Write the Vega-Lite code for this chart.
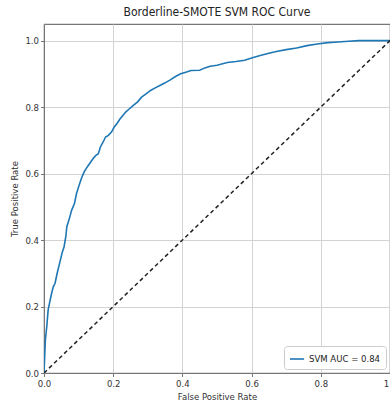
{
  "$schema": "https://vega.github.io/schema/vega-lite/v6.json",
  "width": 346,
  "height": 349,
  "autosize": {"type": "none"},
  "padding": {"left": 44, "top": 24, "right": 0, "bottom": 35},
  "background": "white",
  "title": {"text": "Borderline-SMOTE SVM ROC Curve", "fontSize": 12, "font": "DejaVu Sans Condensed, Liberation Sans Narrow, DejaVu Sans", "fontWeight": "normal", "color": "#222", "offset": 5, "anchor": "middle"},
  "config": {
    "view": {"stroke": "#777", "strokeWidth": 1.2},
    "axis": {"labelFont": "DejaVu Sans Condensed, Liberation Sans Narrow, DejaVu Sans", "titleFont": "DejaVu Sans Condensed, Liberation Sans Narrow, DejaVu Sans", "labelFontSize": 9.5, "titleFontSize": 9.5, "titleFontWeight": "normal", "labelColor": "#333", "titleColor": "#333", "gridColor": "#d3d3d3", "gridWidth": 1, "domainColor": "#777", "tickColor": "#777", "tickSize": 3.5, "labelPadding": 2, "labelFlush": false}
  },
  "datasets": {
    "roc": [
      {"fpr": 0, "tpr": 0, "series": "SVM AUC = 0.84"},
      {"fpr": 0.002, "tpr": 0.05, "series": "SVM AUC = 0.84"},
      {"fpr": 0.004, "tpr": 0.10, "series": "SVM AUC = 0.84"},
      {"fpr": 0.008, "tpr": 0.14, "series": "SVM AUC = 0.84"},
      {"fpr": 0.012, "tpr": 0.19, "series": "SVM AUC = 0.84"},
      {"fpr": 0.016, "tpr": 0.21, "series": "SVM AUC = 0.84"},
      {"fpr": 0.022, "tpr": 0.24, "series": "SVM AUC = 0.84"},
      {"fpr": 0.027, "tpr": 0.26, "series": "SVM AUC = 0.84"},
      {"fpr": 0.032, "tpr": 0.27, "series": "SVM AUC = 0.84"},
      {"fpr": 0.038, "tpr": 0.30, "series": "SVM AUC = 0.84"},
      {"fpr": 0.045, "tpr": 0.33, "series": "SVM AUC = 0.84"},
      {"fpr": 0.052, "tpr": 0.36, "series": "SVM AUC = 0.84"},
      {"fpr": 0.058, "tpr": 0.38, "series": "SVM AUC = 0.84"},
      {"fpr": 0.063, "tpr": 0.41, "series": "SVM AUC = 0.84"},
      {"fpr": 0.066, "tpr": 0.44, "series": "SVM AUC = 0.84"},
      {"fpr": 0.072, "tpr": 0.46, "series": "SVM AUC = 0.84"},
      {"fpr": 0.080, "tpr": 0.49, "series": "SVM AUC = 0.84"},
      {"fpr": 0.088, "tpr": 0.51, "series": "SVM AUC = 0.84"},
      {"fpr": 0.094, "tpr": 0.54, "series": "SVM AUC = 0.84"},
      {"fpr": 0.100, "tpr": 0.56, "series": "SVM AUC = 0.84"},
      {"fpr": 0.108, "tpr": 0.585, "series": "SVM AUC = 0.84"},
      {"fpr": 0.116, "tpr": 0.605, "series": "SVM AUC = 0.84"},
      {"fpr": 0.125, "tpr": 0.62, "series": "SVM AUC = 0.84"},
      {"fpr": 0.133, "tpr": 0.632, "series": "SVM AUC = 0.84"},
      {"fpr": 0.142, "tpr": 0.645, "series": "SVM AUC = 0.84"},
      {"fpr": 0.150, "tpr": 0.655, "series": "SVM AUC = 0.84"},
      {"fpr": 0.157, "tpr": 0.66, "series": "SVM AUC = 0.84"},
      {"fpr": 0.163, "tpr": 0.68, "series": "SVM AUC = 0.84"},
      {"fpr": 0.171, "tpr": 0.695, "series": "SVM AUC = 0.84"},
      {"fpr": 0.178, "tpr": 0.71, "series": "SVM AUC = 0.84"},
      {"fpr": 0.186, "tpr": 0.715, "series": "SVM AUC = 0.84"},
      {"fpr": 0.195, "tpr": 0.725, "series": "SVM AUC = 0.84"},
      {"fpr": 0.203, "tpr": 0.74, "series": "SVM AUC = 0.84"},
      {"fpr": 0.212, "tpr": 0.752, "series": "SVM AUC = 0.84"},
      {"fpr": 0.220, "tpr": 0.765, "series": "SVM AUC = 0.84"},
      {"fpr": 0.228, "tpr": 0.775, "series": "SVM AUC = 0.84"},
      {"fpr": 0.236, "tpr": 0.785, "series": "SVM AUC = 0.84"},
      {"fpr": 0.247, "tpr": 0.795, "series": "SVM AUC = 0.84"},
      {"fpr": 0.258, "tpr": 0.805, "series": "SVM AUC = 0.84"},
      {"fpr": 0.270, "tpr": 0.815, "series": "SVM AUC = 0.84"},
      {"fpr": 0.282, "tpr": 0.83, "series": "SVM AUC = 0.84"},
      {"fpr": 0.295, "tpr": 0.84, "series": "SVM AUC = 0.84"},
      {"fpr": 0.308, "tpr": 0.85, "series": "SVM AUC = 0.84"},
      {"fpr": 0.320, "tpr": 0.857, "series": "SVM AUC = 0.84"},
      {"fpr": 0.335, "tpr": 0.865, "series": "SVM AUC = 0.84"},
      {"fpr": 0.350, "tpr": 0.873, "series": "SVM AUC = 0.84"},
      {"fpr": 0.365, "tpr": 0.882, "series": "SVM AUC = 0.84"},
      {"fpr": 0.380, "tpr": 0.892, "series": "SVM AUC = 0.84"},
      {"fpr": 0.395, "tpr": 0.900, "series": "SVM AUC = 0.84"},
      {"fpr": 0.410, "tpr": 0.905, "series": "SVM AUC = 0.84"},
      {"fpr": 0.425, "tpr": 0.910, "series": "SVM AUC = 0.84"},
      {"fpr": 0.450, "tpr": 0.911, "series": "SVM AUC = 0.84"},
      {"fpr": 0.465, "tpr": 0.918, "series": "SVM AUC = 0.84"},
      {"fpr": 0.480, "tpr": 0.923, "series": "SVM AUC = 0.84"},
      {"fpr": 0.500, "tpr": 0.926, "series": "SVM AUC = 0.84"},
      {"fpr": 0.530, "tpr": 0.934, "series": "SVM AUC = 0.84"},
      {"fpr": 0.555, "tpr": 0.937, "series": "SVM AUC = 0.84"},
      {"fpr": 0.580, "tpr": 0.941, "series": "SVM AUC = 0.84"},
      {"fpr": 0.600, "tpr": 0.948, "series": "SVM AUC = 0.84"},
      {"fpr": 0.625, "tpr": 0.955, "series": "SVM AUC = 0.84"},
      {"fpr": 0.650, "tpr": 0.962, "series": "SVM AUC = 0.84"},
      {"fpr": 0.675, "tpr": 0.968, "series": "SVM AUC = 0.84"},
      {"fpr": 0.700, "tpr": 0.973, "series": "SVM AUC = 0.84"},
      {"fpr": 0.730, "tpr": 0.978, "series": "SVM AUC = 0.84"},
      {"fpr": 0.760, "tpr": 0.985, "series": "SVM AUC = 0.84"},
      {"fpr": 0.790, "tpr": 0.990, "series": "SVM AUC = 0.84"},
      {"fpr": 0.820, "tpr": 0.994, "series": "SVM AUC = 0.84"},
      {"fpr": 0.850, "tpr": 0.996, "series": "SVM AUC = 0.84"},
      {"fpr": 0.880, "tpr": 0.998, "series": "SVM AUC = 0.84"},
      {"fpr": 0.910, "tpr": 1.0, "series": "SVM AUC = 0.84"},
      {"fpr": 1.0, "tpr": 1.0, "series": "SVM AUC = 0.84"}
    ],
    "diag": [
      {"fpr": 0, "tpr": 0},
      {"fpr": 1, "tpr": 1}
    ]
  },
  "layer": [
    {
      "data": {"name": "roc"},
      "mark": {"type": "line", "strokeWidth": 1.6, "clip": true},
      "encoding": {
        "x": {"field": "fpr", "type": "quantitative", "scale": {"domain": [0, 1], "nice": false, "zero": false},
              "axis": {"title": "False Positive Rate", "values": [0, 0.2, 0.4, 0.6, 0.8, 1.0], "format": ".1f", "titlePadding": 3}},
        "y": {"field": "tpr", "type": "quantitative", "scale": {"domain": [0, 1.05], "nice": false, "zero": false},
              "axis": {"title": "True Positive Rate", "values": [0, 0.2, 0.4, 0.6, 0.8, 1.0], "format": ".1f", "titlePadding": 5}},
        "order": {"field": "fpr"},
        "color": {"field": "series", "type": "nominal",
                  "scale": {"domain": ["SVM AUC = 0.84"], "range": ["#1f77b4"]},
                  "legend": {"title": null, "orient": "bottom-right", "symbolType": "stroke", "symbolStrokeWidth": 1.6, "symbolSize": 200,
                             "labelFont": "DejaVu Sans Condensed, Liberation Sans Narrow, DejaVu Sans", "labelFontSize": 9.5, "labelColor": "#222",
                             "fillColor": "white", "strokeColor": "#ccc", "cornerRadius": 3, "padding": 5, "offset": 4}}
      }
    },
    {
      "data": {"name": "diag"},
      "mark": {"type": "line", "color": "#222", "strokeDash": [4, 3], "strokeWidth": 1.5, "clip": true},
      "encoding": {
        "x": {"field": "fpr", "type": "quantitative"},
        "y": {"field": "tpr", "type": "quantitative"}
      }
    }
  ]
}
